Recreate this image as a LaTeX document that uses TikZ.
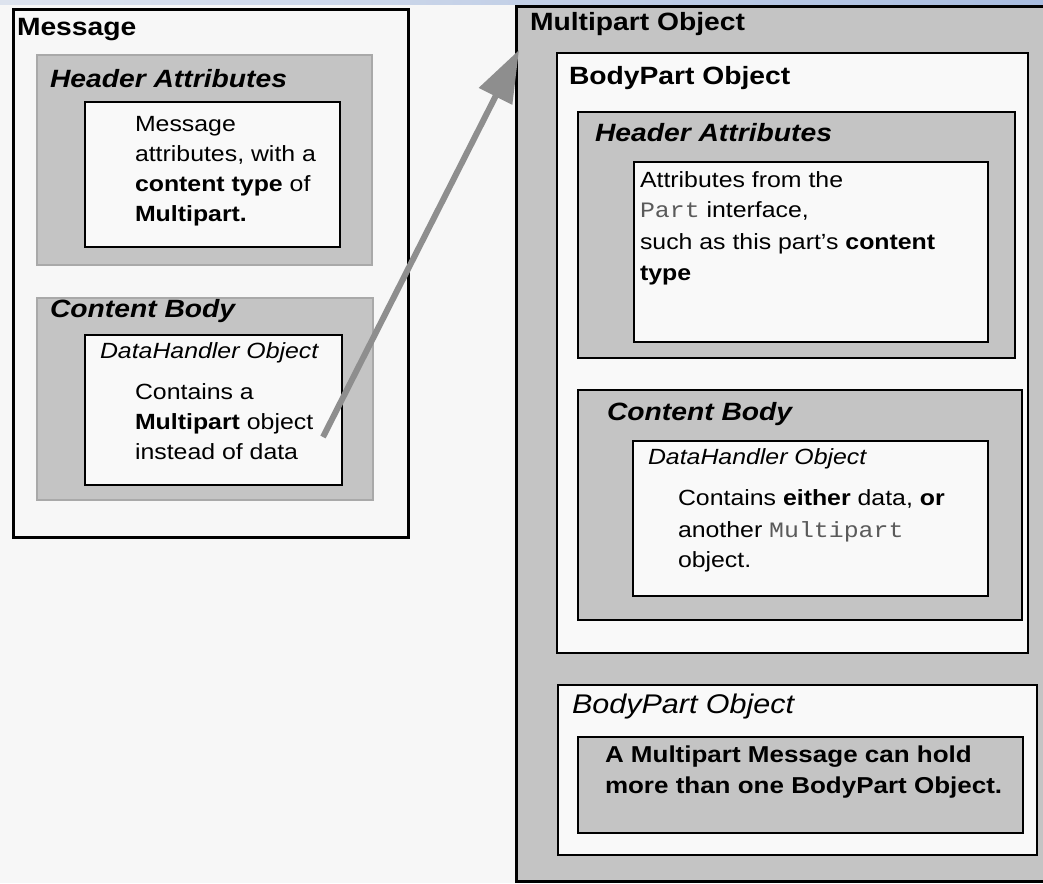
\documentclass[tikz,border=0pt]{standalone}
\usepackage{fontspec}
\setmainfont{Liberation Sans}[FakeStretch=1.13]
\setmonofont{Liberation Mono}[FakeStretch=1.13]
\usetikzlibrary{arrows.meta}
\definecolor{bg}{HTML}{F7F7F7}
\definecolor{boxgray}{HTML}{C4C4C4}
\definecolor{boxwhite}{HTML}{F9F9F9}
\definecolor{arrowgray}{HTML}{8E8E8E}
\definecolor{edgegray}{HTML}{A9A9A9}
\definecolor{monogray}{HTML}{5A5A5A}
\definecolor{stripL}{HTML}{DDE3EE}
\definecolor{stripR}{HTML}{A9BDE0}
\newcommand\monotxt[1]{{\ttfamily\color{monogray}#1}}
\begin{document}
\begin{tikzpicture}[x=1pt,y=-1pt,
  txt/.style={anchor=base west, inner sep=0pt, outer sep=0pt, font=\fontsize{22}{26}\selectfont},
  ital/.style={txt, font=\fontsize{22}{26}\selectfont\itshape},
  lbl/.style={txt, font=\fontsize{25}{30}\selectfont\bfseries},
  hdr/.style={txt, font=\fontsize{25}{30}\selectfont\bfseries\itshape},
  bigital/.style={txt, font=\fontsize{27}{30}\selectfont\itshape},
  note/.style={txt, font=\fontsize{23}{28}\selectfont\bfseries},
  frame/.style={anchor=north west, inner sep=0pt, outer sep=0pt},
  graybox/.style={frame, fill=boxgray, draw=black, line width=1.2pt},
  softgray/.style={frame, fill=boxgray, draw=edgegray, line width=1.2pt},
  whitebox/.style={frame, fill=boxwhite, draw=black, line width=1.5pt},
  bigframe/.style={frame, draw=black, line width=3pt},
  link/.style={draw=arrowgray, line width=6pt, -{Triangle[length=52pt,width=36pt]}}
]
\useasboundingbox (0,0) rectangle (1043,883);
\fill[bg] (0,0) rectangle (1043,883);
\shade[left color=stripL, right color=stripR] (0,0) rectangle (1043,5);

% ---------- Message (left) ----------
\node[bigframe, fill=bg, minimum width=395, minimum height=527] (msg) at (13,10) {};
\node[lbl] (msgt) at (17,36) {Message};

\node[softgray, minimum width=335, minimum height=210] (lha) at (37,55) {};
\node[hdr] (lhat) at (50,87) {Header Attributes};
\node[whitebox, minimum width=255, minimum height=145] (lhw) at (85,102) {};
\node[txt] (l1) at (135,131) {Message};
\node[txt] (l2) at (135,161) {attributes, with a};
\node[txt] (l3) at (135,191) {\textbf{content type} of};
\node[txt] (l4) at (135,221) {\textbf{Multipart.}};

\node[softgray, minimum width=336, minimum height=202] (lcb) at (37,298) {};
\node[hdr] (lcbt) at (50,317) {Content Body};
\node[whitebox, minimum width=257, minimum height=150] (ldh) at (85,335) {};
\node[ital] (ldht) at (100,358) {DataHandler Object};
\node[txt] (l5) at (135,399) {Contains a};
\node[txt] (l6) at (135,429) {\textbf{Multipart} object};
\node[txt] (l7) at (135,459) {instead of data};

% ---------- Multipart Object (right) ----------
\node[bigframe, fill=boxgray, minimum width=545, minimum height=874] (mp) at (516,7) {};
\node[lbl] (mpt) at (530,31) {Multipart Object};

\node[whitebox, minimum width=471, minimum height=600] (bp1) at (557,53) {};
\node[lbl] (bp1t) at (569,84) {BodyPart Object};

\node[graybox, minimum width=437, minimum height=246] (rha) at (578,112) {};
\node[hdr] (rhat) at (595,141) {Header Attributes};
\node[whitebox, minimum width=354, minimum height=180] (rhw) at (634,162) {};
\node[txt] (r1) at (640,187) {Attributes from the};
\node[txt] (r2) at (640,217) {\monotxt{Part} interface,};
\node[txt] (r3) at (640,249) {such as this part's \textbf{content}};
\node[txt] (r4) at (640,280) {\textbf{type}};

\node[graybox, minimum width=444, minimum height=230] (rcb) at (578,390) {};
\node[hdr] (rcbt) at (607,420) {Content Body};
\node[whitebox, minimum width=355, minimum height=155] (rdh) at (633,441) {};
\node[ital] (rdht) at (648,464) {DataHandler Object};
\node[txt] (r5) at (678,505) {Contains \textbf{either} data, \textbf{or}};
\node[txt] (r6) at (678,537) {another \monotxt{Multipart}};
\node[txt] (r7) at (678,567) {object.};

\node[whitebox, minimum width=479, minimum height=170] (bp2) at (558,685) {};
\node[bigital] (bp2t) at (572,713) {BodyPart Object};
\node[graybox, minimum width=445, minimum height=96] (note) at (578,737) {};
\node[note] (n1) at (605,762) {A Multipart Message can hold};
\node[note] (n2) at (605,793) {more than one BodyPart Object.};

% ---------- connector ----------
\coordinate (atail) at (323,437);
\coordinate (atip) at (519,50);
\draw[link] (atail) -- (atip);
\end{tikzpicture}
\end{document}
